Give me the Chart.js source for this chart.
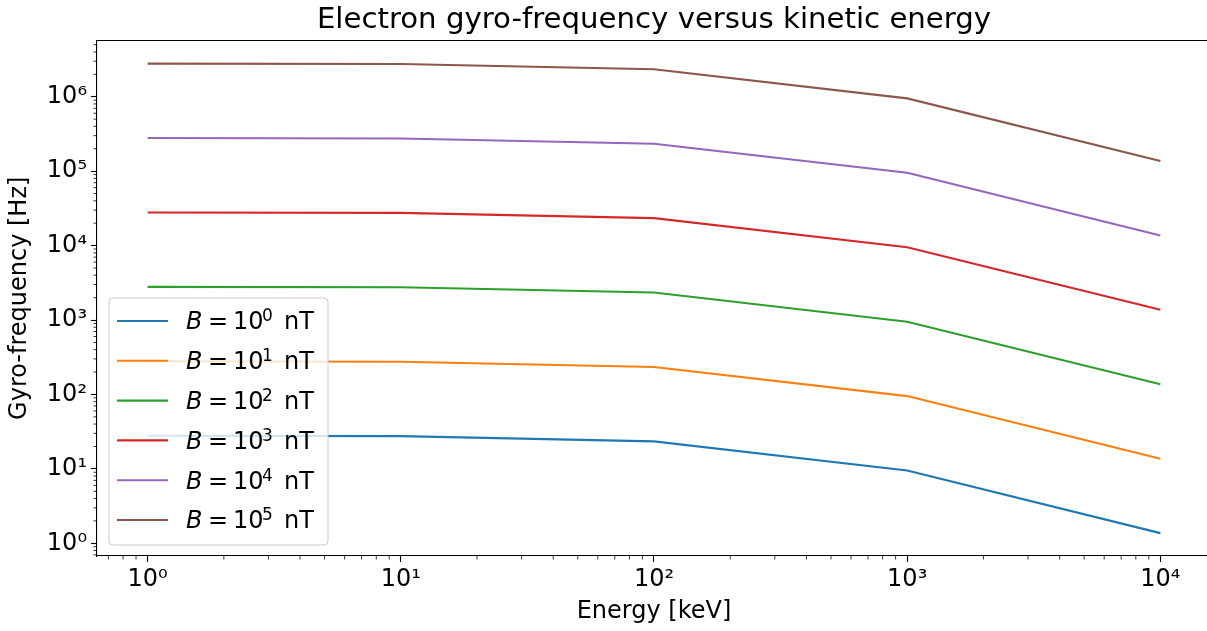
<!DOCTYPE html>
<html lang="en">
<head>
    <meta charset="UTF-8">
    <title>Electron gyro-frequency</title>
    <script src="https://cdn.jsdelivr.net/npm/chart.js"></script>
    <style>
        body{ margin: 0; overflow: hidden; background: #fff; }
        .canvas{ width: 1211px; height: 631px; }
    </style>
</head>
<body>
<div class="canvas">
    <canvas id="grafico1"></canvas>
</div>
<script>
    // data
    const energy = [1, 10, 100, 1000, 10000]
    const bExp = [0, 1, 2, 3, 4, 5]
    const f0 = [27.9, 27.5, 23.4, 9.5, 1.37]
    const f1 = [279, 275, 234, 95, 13.7]
    const f2 = [2790, 2750, 2340, 950, 137]
    const f3 = [27900, 27500, 23400, 9500, 1370]
    const f4 = [279000, 275000, 234000, 95000, 13700]
    const f5 = [2790000, 2750000, 2340000, 950000, 137000]
    const xTicks = [1, 10, 100, 1000, 10000]
    const yTicks = [1, 10, 100, 1000, 10000, 100000, 1000000]

    const cores = ['#1f77b4', '#ff7f0e', '#2ca02c', '#d62728', '#9467bd', '#8c564b']
    const series = [f0, f1, f2, f3, f4, f5]
    const FONT = 'DejaVu Sans'

    const sup = {'0':'⁰','1':'¹','2':'²','3':'³','4':'⁴','5':'⁵','6':'⁶','7':'⁷','8':'⁸','9':'⁹','-':'⁻'}
    const pow10 = v => '10' + String(Math.round(Math.log10(v))).split('').map(c => sup[c]).join('')

    const datasets = series.map((s, i) => ({
        label: 'B = 10^' + bExp[i] + ' nT',
        data: energy.map((e, j) => ({x: e, y: s[j]})),
        borderColor: cores[i],
        backgroundColor: cores[i],
        borderWidth: 2.1,
        pointRadius: 0,
        tension: 0
    }))

    // minor ticks + top spine
    const extras = {
        id: 'extras',
        afterDraw(chart){
            const c = chart.ctx, a = chart.chartArea
            c.save()
            c.strokeStyle = '#000'
            c.lineWidth = 1.1
            c.beginPath(); c.moveTo(a.left, a.top); c.lineTo(a.right + 6, a.top); c.stroke()
            c.lineWidth = 0.8
            for (const id of ['x', 'y']){
                const sc = chart.scales[id]
                for (let n = -1; n <= 7; n++){
                    for (let k = 2; k <= 9; k++){
                        const v = k * Math.pow(10, n)
                        if (v < sc.min || v > sc.max) continue
                        const p = sc.getPixelForValue(v)
                        c.beginPath()
                        if (id === 'x'){ c.moveTo(p, a.bottom); c.lineTo(p, a.bottom + 3.5) }
                        else { c.moveTo(a.left, p); c.lineTo(a.left - 3.5, p) }
                        c.stroke()
                    }
                }
            }
            c.restore()
        }
    }

    // matplotlib-style legend inside the plot
    const legenda = {
        id: 'legenda',
        afterDatasetsDraw(chart){
            const c = chart.ctx
            c.save()
            c.beginPath()
            c.roundRect(109, 298, 219, 247, 4)
            c.fillStyle = 'rgba(255,255,255,0.8)'
            c.fill()
            c.strokeStyle = '#cccccc'
            c.lineWidth = 1
            c.stroke()
            chart.data.datasets.forEach((d, i) => {
                const y = 321 + 39.8 * i
                c.strokeStyle = d.borderColor
                c.lineWidth = 2.1
                c.beginPath(); c.moveTo(117, y); c.lineTo(168, y); c.stroke()
                const base = y + 8.3
                c.fillStyle = '#000'
                c.textBaseline = 'alphabetic'
                c.textAlign = 'left'
                c.font = 'italic 24px "' + FONT + '"'
                c.fillText('B', 186, base)
                c.font = '24px "' + FONT + '"'
                c.fillText('=', 208, base)
                c.fillText('10', 233, base)
                c.font = '17px "' + FONT + '"'
                c.fillText(String(bExp[i]), 262, base - 8)
                c.font = '24px "' + FONT + '"'
                c.fillText('nT', 284, base)
            })
            c.restore()
        }
    }

    const ctx = document.getElementById('grafico1')
    const grafico1 = new Chart(ctx, {
        type: 'line',
        data: { datasets: datasets },
        plugins: [extras, legenda],
        options: {
            responsive: true,
            maintainAspectRatio: false,
            animation: false,
            layout: { padding: 0 },
            plugins: {
                legend: { display: false },
                tooltip: { enabled: false },
                title: {
                    display: true,
                    fullSize: false,
                    text: 'Electron gyro-frequency versus kinetic energy',
                    color: '#000',
                    font: { family: FONT, size: 29.2, weight: 'normal' },
                    padding: { top: 3, bottom: 2.5 }
                }
            },
            scales: {
                x: {
                    type: 'logarithmic',
                    bounds: 'data',
                    min: 0.631,
                    max: 15849,
                    afterBuildTicks: s => { s.ticks = xTicks.map(v => ({value: v, major: true})) },
                    afterFit: s => { s.height = 75 },
                    ticks: {
                        autoSkip: false,
                        maxRotation: 0,
                        color: '#000',
                        padding: 3,
                        font: { family: FONT, size: 24 },
                        callback: v => pow10(v)
                    },
                    grid: { drawOnChartArea: false, tickLength: 6, color: '#000', tickWidth: 1.1 },
                    border: { color: '#000', width: 1.1 },
                    title: {
                        display: true, text: 'Energy [keV]', color: '#000',
                        font: { family: FONT, size: 24 },
                        padding: { top: 0, bottom: 5 }
                    }
                },
                y: {
                    type: 'logarithmic',
                    bounds: 'data',
                    min: 0.675,
                    max: 5.69e6,
                    afterBuildTicks: s => { s.ticks = yTicks.map(v => ({value: v, major: true})) },
                    afterFit: s => { s.width = 97 },
                    ticks: {
                        autoSkip: false,
                        color: '#000',
                        padding: 4,
                        font: { family: FONT, size: 24 },
                        callback: v => pow10(v)
                    },
                    grid: { drawOnChartArea: false, tickLength: 6, color: '#000', tickWidth: 1.1 },
                    border: { color: '#000', width: 1.1 },
                    title: {
                        display: true, text: 'Gyro-frequency [Hz]', color: '#000',
                        font: { family: FONT, size: 24 },
                        padding: { top: 5, bottom: 0 }
                    }
                }
            }
        }
    })
</script>
</body>
</html>
